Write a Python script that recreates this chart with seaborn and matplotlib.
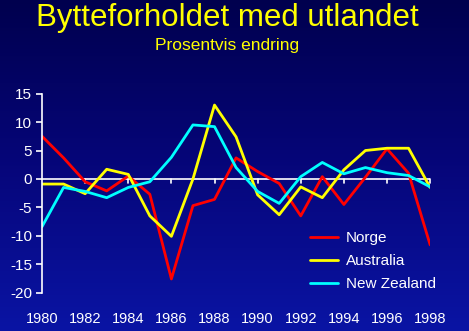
import numpy as np
import pandas as pd
import matplotlib
matplotlib.use("Agg")
import matplotlib.pyplot as plt
import seaborn as sns
from matplotlib.colors import LinearSegmentedColormap

years = list(range(1980, 1999))
norge = [7.5, 3.7, -0.5, -2.1, 0.5, -2.7, -17.6, -4.7, -3.6, 3.7, 1.3, -0.8, -6.5, 0.4, -4.5, 0.3, 5.3, 1.0, -11.6]
australia = [-0.9, -0.9, -2.6, 1.7, 0.8, -6.5, -10.1, 0.0, 13.0, 7.4, -2.8, -6.3, -1.4, -3.3, 1.6, 5.0, 5.4, 5.4, -1.5]
new_zealand = [-8.4, -1.5, -2.2, -3.3, -1.5, -0.5, 3.8, 9.5, 9.2, 2.0, -2.2, -4.3, 0.4, 2.9, 0.9, 2.0, 1.1, 0.6, -1.4]
series_names = ["Norge", "Australia", "New Zealand"]
colors = ["#ff0000", "#ffff00", "#00ffff"]
y_ticks = [15, 10, 5, 0, -5, -10, -15, -20]
x_ticks = list(range(1980, 1999, 2))

df = pd.DataFrame({"År": years, "Norge": norge, "Australia": australia, "New Zealand": new_zealand})
long = df.melt(id_vars="År", var_name="Land", value_name="Endring")

sns.set_theme(style="white")
plt.rcParams["font.family"] = ["Liberation Sans", "DejaVu Sans"]

fig = plt.figure(figsize=(4.69, 3.31), dpi=100)
# gradient background
bg = fig.add_axes([0, 0, 1, 1], zorder=-10)
grad = np.linspace(0, 1, 256).reshape(-1, 1)
cmap = LinearSegmentedColormap.from_list("bg", ["#00004e", "#06067a", "#0a14a4"])
bg.imshow(grad, aspect="auto", cmap=cmap, extent=[0, 1, 0, 1], origin="upper")
bg.axis("off")

ax = fig.add_axes([0.0896, 0.116, 0.8275, 0.601])
ax.patch.set_alpha(0)
sns.lineplot(data=long, x="År", y="Endring", hue="Land", hue_order=series_names,
             palette=colors, linewidth=2.0, ax=ax, legend=True)

ax.set_xlim(1980, 1998)
ax.set_ylim(-20, 15)
ax.set_yticks(y_ticks)
ax.set_yticklabels([str(v) for v in y_ticks], color="white", fontsize=11)
ax.set_xticks(x_ticks)
ax.set_xticklabels([str(v) for v in x_ticks], color="white", fontsize=10.5)
ax.set_xlabel("")
ax.set_ylabel("")
for s in ["top", "right", "bottom"]:
    ax.spines[s].set_visible(False)
ax.spines["left"].set_color("white")
ax.spines["left"].set_linewidth(1.2)
ax.axhline(0, color="white", linewidth=1.2, zorder=1)
ax.tick_params(axis="y", length=4, width=1.2, color="white", direction="out", pad=3, left=True)
ax.tick_params(axis="x", length=0, pad=14)
for xt in x_ticks[1:]:
    ax.plot([xt, xt], [0, -0.7], color="white", linewidth=1.2, zorder=1, clip_on=False)

leg = ax.legend(title=None, loc="upper left", bbox_to_anchor=(310 / 469, 1 - 231 / 331),
                bbox_transform=fig.transFigure, frameon=False, borderpad=0, borderaxespad=0,
                fontsize=11, handlelength=1.85, labelspacing=0.6, handletextpad=0.5)
for t in leg.get_texts():
    t.set_color("white")

fig.text(0.484, 0.946, "Bytteforholdet med utlandet", color="#ffff00", fontsize=22.5,
         ha="center", va="center")
fig.text(0.484, 0.862, "Prosentvis endring", color="#ffff00", fontsize=12.5,
         ha="center", va="center")

fig.savefig("out.png", dpi=100)
